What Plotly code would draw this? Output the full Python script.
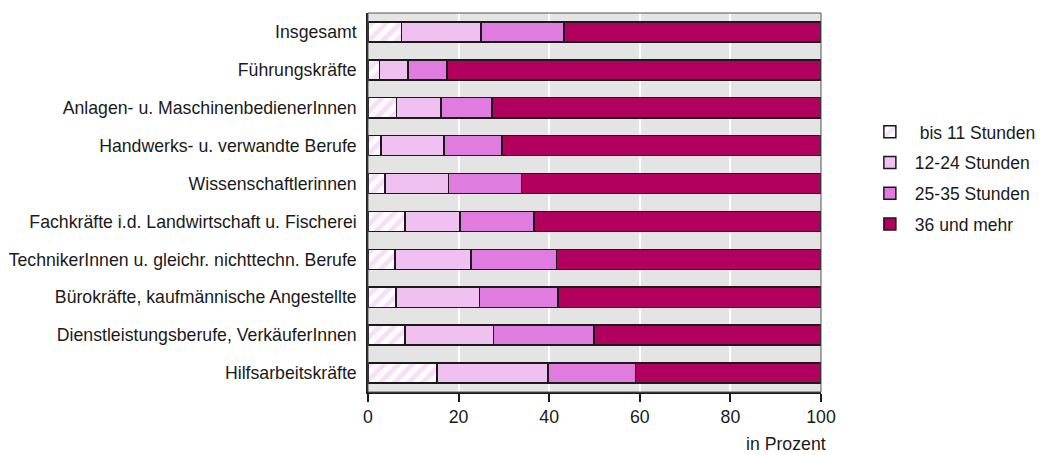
import plotly.graph_objects as go

# Anteile je Berufsgruppe nach Wochenarbeitszeit (in Prozent)
categories = [
    "Insgesamt",
    "Führungskräfte",
    "Anlagen- u. MaschinenbedienerInnen",
    "Handwerks- u. verwandte Berufe",
    "Wissenschaftlerinnen",
    "Fachkräfte i.d. Landwirtschaft u. Fischerei",
    "TechnikerInnen u. gleichr. nichttechn. Berufe",
    "Bürokräfte, kaufmännische Angestellte",
    "Dienstleistungsberufe, VerkäuferInnen",
    "Hilfsarbeitskräfte",
]
bis_11 = [7.4, 2.5, 6.3, 2.9, 3.8, 8.2, 6.0, 6.2, 8.2, 15.2]
std_12_24 = [17.5, 6.3, 9.8, 13.9, 14.0, 12.1, 16.7, 18.4, 19.5, 24.5]
std_25_35 = [18.4, 8.6, 11.3, 12.8, 16.1, 16.3, 18.9, 17.3, 22.2, 19.3]
ab_36 = [56.7, 82.6, 72.6, 70.4, 66.1, 63.4, 58.4, 58.1, 50.1, 41.0]

series_names = [" bis 11 Stunden", "12-24 Stunden", "25-35 Stunden", "36 und mehr"]
series_values = [bis_11, std_12_24, std_25_35, ab_36]
colors = ["#f0c0f0", "#f0c0f0", "#e07ce0", "#b2005e"]

fig = go.Figure()
for i, (name, vals, col) in enumerate(zip(series_names, series_values, colors)):
    marker = dict(color=col, line=dict(color="#1a1a1a", width=1.5))
    if i == 0:
        # schraffiertes Segment
        marker["pattern"] = dict(shape="/", fgcolor="#f0c0f0", bgcolor="#ffffff",
                                 size=10, solidity=0.5, fillmode="overlay")
        marker["color"] = "#ffffff"
    fig.add_trace(go.Bar(
        y=categories, x=vals, name=name, orientation="h",
        marker=marker, legendgroup=str(i), hoverinfo="x+name",
    ))

fig.update_layout(
    barmode="stack",
    bargap=0.47,
    width=1042, height=455,
    margin=dict(l=368, r=221, t=13, b=63),
    paper_bgcolor="white",
    plot_bgcolor="#e4e4e4",
    font=dict(family="Liberation Sans, Arial, sans-serif", size=17.7, color="#1a1a1a"),
    legend=dict(
        xref="container", yref="container",
        x=0.83, y=0.609, xanchor="left", yanchor="middle",
        traceorder="grouped", tracegroupgap=5,
        font=dict(size=17.5), itemwidth=40,
    ),
    xaxis=dict(
        range=[0, 100], tickvals=[0, 20, 40, 60, 80, 100],
        showgrid=True, gridcolor="white", gridwidth=1.5,
        zeroline=False, automargin=False,
        showline=True, linecolor="#1a1a1a", linewidth=2, mirror=False,
        ticks="outside", ticklen=8, tickwidth=1.5, tickcolor="#1a1a1a",
    ),
    yaxis=dict(
        autorange="reversed", automargin=False,
        showline=True, linecolor="#1a1a1a", linewidth=1.5,
        ticks="", ticklabelstandoff=6,
        showgrid=False,
    ),
    shapes=[dict(type="rect", xref="paper", yref="paper", x0=0, x1=1, y0=0, y1=1,
                 line=dict(color="#555555", width=1), layer="above")],
    annotations=[dict(
        text="in Prozent", xref="paper", yref="paper", x=1.0, y=-0.105,
        xanchor="right", yanchor="top", showarrow=False, xshift=7,
        font=dict(size=17.7),
    )],
)

fig.write_html("out.html", config={"displayModeBar": False},
               post_script="document.body.style.margin='0';")
